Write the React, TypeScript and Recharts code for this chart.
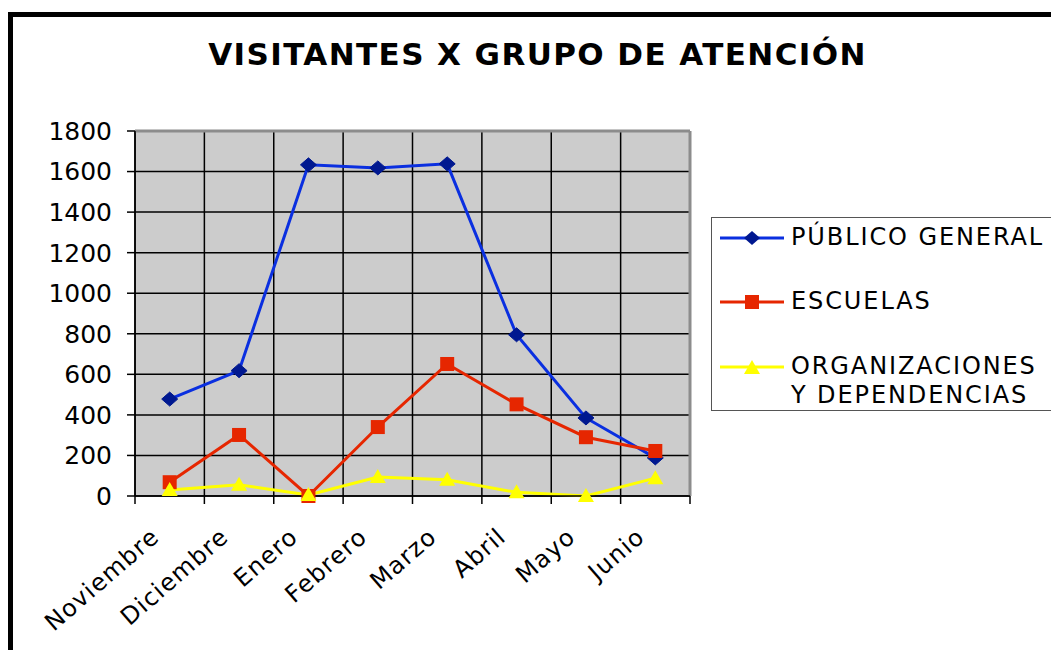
import React from 'react';
import { LineChart, Line, XAxis, YAxis, CartesianGrid, ReferenceLine } from 'recharts';

const months = ['Noviembre', 'Diciembre', 'Enero', 'Febrero', 'Marzo', 'Abril', 'Mayo', 'Junio'];
const publicoGeneral = [478, 618, 1633, 1618, 1638, 795, 385, 188];
const escuelas = [68, 301, 0, 340, 651, 452, 290, 222];
const organizaciones = [30, 55, 5, 94, 80, 18, 0, 88];
const yTicks = [0, 200, 400, 600, 800, 1000, 1200, 1400, 1600, 1800];

const data = months.map((m, i) => ({
  month: m,
  publico: publicoGeneral[i],
  escuelas: escuelas[i],
  organizaciones: organizaciones[i],
}));

const FONT = '"DejaVu Sans", Verdana, sans-serif';
const BLUE_LINE = '#0A2FE0';
const BLUE_MARK = '#001890';
const RED = '#E62600';
const YELLOW = '#FFFF00';
const FRAME_GRAY = '#8C8C8C';

const diamond = (props: any) => {
  const { cx, cy, index } = props;
  if (cx == null || cy == null) return <g key={`d-${index}`} />;
  return (
    <path
      key={`d-${index}`}
      d={`M${cx},${cy - 7} L${cx + 8},${cy} L${cx},${cy + 7} L${cx - 8},${cy} Z`}
      fill={BLUE_MARK}
      stroke={BLUE_MARK}
      strokeWidth={1}
    />
  );
};

const square = (props: any) => {
  const { cx, cy, index } = props;
  if (cx == null || cy == null) return <g key={`s-${index}`} />;
  return <rect key={`s-${index}`} x={cx - 7} y={cy - 7} width={14} height={14} fill={RED} />;
};

const triangle = (props: any) => {
  const { cx, cy, index } = props;
  if (cx == null || cy == null) return <g key={`t-${index}`} />;
  return (
    <path
      key={`t-${index}`}
      d={`M${cx},${cy - 8} L${cx + 8},${cy + 6} L${cx - 8},${cy + 6} Z`}
      fill={YELLOW}
    />
  );
};

// category label plus the small tick marks at the band edges
const MonthTick = (props: any) => {
  const { x, y, payload, index, width, visibleTicksCount } = props;
  const half = width && visibleTicksCount ? width / visibleTicksCount / 2 : 0;
  const isLast = index === visibleTicksCount - 1;
  return (
    <g transform={`translate(${x},${y})`}>
      <line x1={-half} y1={0} x2={-half} y2={8} stroke="#000" strokeWidth={1.5} />
      {isLast && <line x1={half} y1={0} x2={half} y2={8} stroke="#000" strokeWidth={1.5} />}
      <text
        x={0}
        y={0}
        transform="translate(-9,43) rotate(-41)"
        textAnchor="end"
        fontSize={24}
        letterSpacing={1.2}
        fontFamily={FONT}
        fill="#000"
      >
        {payload.value}
      </text>
    </g>
  );
};

const bandEdges = ({ xAxis, offset }: any) => {
  const s = xAxis && xAxis.scale;
  if (s && typeof s === 'function' && typeof s.bandwidth === 'function') {
    const bw = s.bandwidth();
    const starts = months.map((m) => s(m));
    if (starts.every((v: any) => typeof v === 'number' && !isNaN(v))) {
      return [...starts, starts[starts.length - 1] + bw];
    }
  }
  const step = offset.width / months.length;
  return [...months.map((_, i) => offset.left + i * step), offset.left + offset.width];
};

const legendItems = [
  { lines: ['PÚBLICO GENERAL'], color: BLUE_LINE, mark: 'diamond' },
  { lines: ['ESCUELAS'], color: RED, mark: 'square' },
  { lines: ['ORGANIZACIONES', 'Y DEPENDENCIAS'], color: YELLOW, mark: 'triangle' },
];

const LegendMark = ({ color, mark }: { color: string; mark: string }) => (
  <svg width={64} height={16} style={{ display: 'block' }}>
    <line x1={0} y1={8} x2={64} y2={8} stroke={color} strokeWidth={3} />
    {mark === 'diamond' && <path d="M32,1 L40,8 L32,15 L24,8 Z" fill={BLUE_MARK} />}
    {mark === 'square' && <rect x={25} y={1} width={14} height={14} fill={RED} />}
    {mark === 'triangle' && <path d="M32,1 L40,15 L24,15 Z" fill={YELLOW} />}
  </svg>
);

export default function App() {
  return (
    <div
      style={{
        position: 'absolute',
        left: 0,
        top: 0,
        width: 1051,
        height: 650,
        overflow: 'hidden',
        background: '#fff',
        fontFamily: FONT,
      }}
    >
      <div
        style={{
          position: 'absolute',
          left: 8,
          top: 12,
          width: 2000,
          height: 2000,
          border: '5px solid #000',
        }}
      />
      <div
        style={{
          position: 'absolute',
          left: 0,
          width: 1075,
          top: 34,
          textAlign: 'center',
          fontSize: 31,
          fontWeight: 'bold',
          letterSpacing: 1.4,
          lineHeight: '40px',
          color: '#000',
        }}
      >
        VISITANTES X GRUPO DE ATENCIÓN
      </div>

      <div style={{ position: 'absolute', left: 0, top: 0 }}>
        <LineChart width={1051} height={650} data={data} margin={{ top: 131, right: 361, left: 75, bottom: 14 }}>
          <CartesianGrid
            xAxisId="cat"
            yAxisId="left"
            fill="#CCCCCC"
            stroke="#000"
            strokeWidth={1.5}
            horizontalValues={yTicks}
            verticalCoordinatesGenerator={bandEdges}
          />
          <XAxis
            xAxisId="cat"
            dataKey="month"
            scale="band"
            height={140}
            axisLine={{ stroke: '#000', strokeWidth: 1.5 }}
            tickLine={false}
            tickSize={0}
            tickMargin={0}
            interval={0}
            tick={<MonthTick />}
          />
          <YAxis
            yAxisId="left"
            domain={[0, 1800]}
            ticks={yTicks}
            width={60}
            tickSize={8}
            tickMargin={15}
            stroke="#000"
            strokeWidth={1.5}
            tick={{ fontSize: 25, fill: '#000', fontFamily: FONT }}
          />
          <ReferenceLine yAxisId="left" xAxisId="cat" y={1800} stroke={FRAME_GRAY} strokeWidth={3} />
          <ReferenceLine yAxisId="left" xAxisId="cat" x="Junio" position="end" stroke={FRAME_GRAY} strokeWidth={3} />
          <Line
            xAxisId="cat"
            yAxisId="left"
            type="linear"
            dataKey="publico"
            stroke={BLUE_LINE}
            strokeWidth={3}
            dot={diamond}
            activeDot={false}
            isAnimationActive={false}
          />
          <Line
            xAxisId="cat"
            yAxisId="left"
            type="linear"
            dataKey="escuelas"
            stroke={RED}
            strokeWidth={3}
            dot={square}
            activeDot={false}
            isAnimationActive={false}
          />
          <Line
            xAxisId="cat"
            yAxisId="left"
            type="linear"
            dataKey="organizaciones"
            stroke={YELLOW}
            strokeWidth={3}
            dot={triangle}
            activeDot={false}
            isAnimationActive={false}
          />
        </LineChart>
      </div>

      <div
        style={{
          position: 'absolute',
          left: 711,
          top: 217,
          width: 400,
          height: 192,
          border: '1px solid #555',
          background: '#fff',
        }}
      >
        {legendItems.map((item, i) => (
          <div
            key={item.lines[0]}
            style={{
              position: 'absolute',
              left: 8,
              top: [5, 69, 134][i],
              display: 'flex',
              alignItems: 'flex-start',
            }}
          >
            <div style={{ marginTop: 7 }}>
              <LegendMark color={item.color} mark={item.mark} />
            </div>
            <div
              style={{
                marginLeft: 7,
                fontSize: 24,
                letterSpacing: 1.9,
                lineHeight: '29px',
                color: '#000',
              }}
            >
              {item.lines.map((l) => (
                <div key={l}>{l}</div>
              ))}
            </div>
          </div>
        ))}
      </div>
    </div>
  );
}
